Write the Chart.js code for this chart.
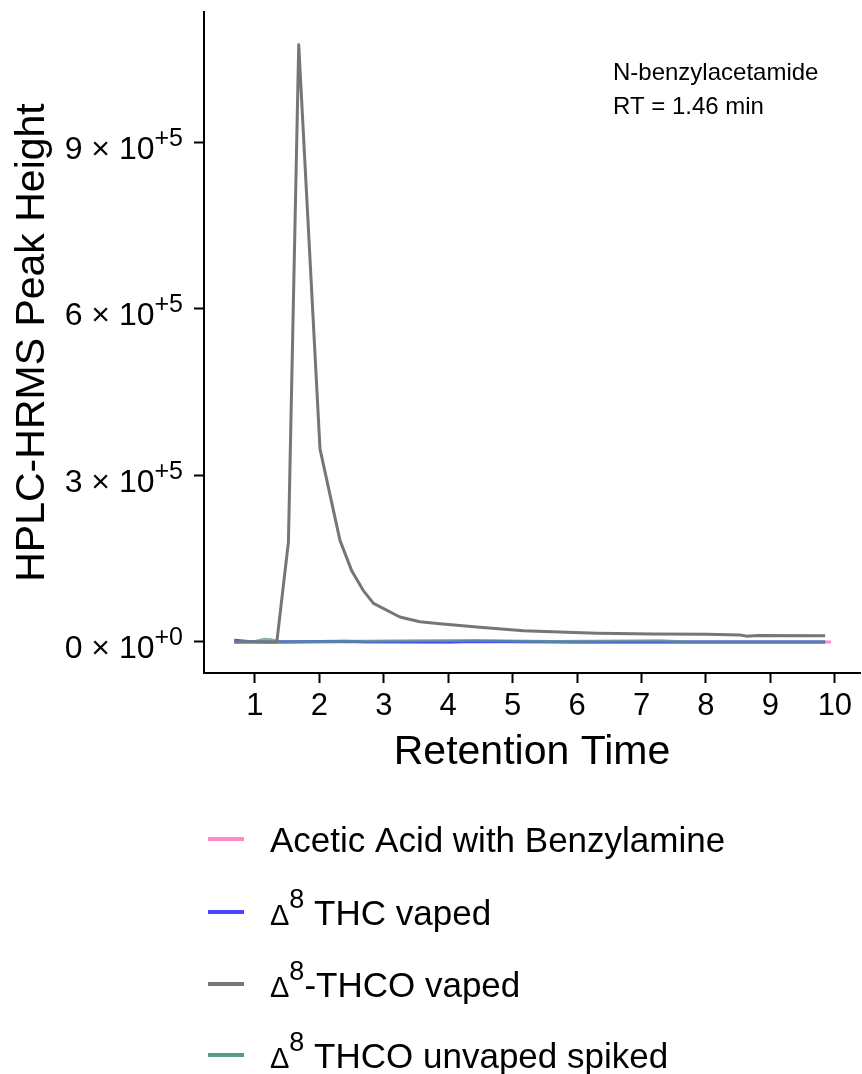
<!DOCTYPE html>
<html>
<head>
<meta charset="utf-8">
<script src="https://cdn.jsdelivr.net/npm/chart.js@4"></script>
<style>
  html, body { margin: 0; padding: 0; background: #fff; }
  canvas { display: block; }
</style>
</head>
<body>
<canvas id="chart" width="862" height="1074"></canvas>
<script>
const FONT = '"Liberation Sans", Arial, sans-serif';

// series names use ^{..} for superscripts
const seriesNames = [
    'Acetic Acid with Benzylamine',
    'Δ^{8} THC vaped',
    'Δ^{8}-THCO vaped',
    'Δ^{8} THCO unvaped spiked',
];
const seriesColors = ['#ff88c8', '#4646ff', '#767676', '#5a9a8e'];

const acidX = [0.68, 9.94];
const acidY = [0, 0];

const thcX = [0.68, 0.9, 1.2, 2.4, 2.7, 4.0, 4.4, 6.0, 7.5, 9.85];
const thcY = [3000, 1000, 0, 1500, 500, 0, 1500, 0, 0, 0];

const thcoX = [0.68, 1.34, 1.52, 1.68, 2.01, 2.32, 2.50, 2.68, 2.84, 3.25, 3.56, 3.87, 4.49, 5.17, 5.84, 6.31, 7.19, 8.01, 8.53, 8.63, 8.80, 9.85];
const thcoY = [0, 0, 180000, 1076000, 348000, 183000, 129000, 93000, 69500, 45000, 36500, 33000, 26400, 20300, 17400, 15600, 14400, 13800, 12600, 10500, 11500, 11300];

const spikedX = [0.68, 1.0, 1.15, 1.25, 1.4, 3.5, 4.4, 5.6, 7.3, 7.7, 9.85];
const spikedY = [0, 1000, 5000, 4000, 0, 2000, 2500, 1000, 2000, 0, 0];

const xTicks = [1, 2, 3, 4, 5, 6, 7, 8, 9, 10];
const yTicks = [0, 300000, 600000, 900000];
const yTickLabels = ['0 × 10^{+0}', '3 × 10^{+5}', '6 × 10^{+5}', '9 × 10^{+5}'];

const noteLines = ['N-benzylacetamide', 'RT = 1.46 min'];

const toPoints = (xs, ys) => xs.map((x, i) => ({ x: x, y: ys[i] }));
const plain = s => s.replace(/\^\{([^}]*)\}/g, '$1');

// split 'a^{b}c' into parts, Δ gets its own part
function parseParts(s) {
    const parts = [];
    const re = /\^\{([^}]*)\}/g;
    const pushText = t => {
        t.split(/(Δ)/).forEach(seg => {
            if (seg) parts.push({ text: seg, sup: false, sym: seg === 'Δ' });
        });
    };
    let last = 0, m;
    while ((m = re.exec(s)) !== null) {
        if (m.index > last) pushText(s.slice(last, m.index));
        parts.push({ text: m[1], sup: true });
        last = re.lastIndex;
    }
    if (last < s.length) pushText(s.slice(last));
    return parts;
}

function drawRich(ctx, s, x, y, size, supSize, supRise, align) {
    const parts = parseParts(s);
    const fontOf = p => (p.sup ? supSize : p.sym ? Math.round(size * 0.82) : size) + 'px ' + FONT;
    let total = 0;
    for (const p of parts) {
        ctx.font = fontOf(p);
        p.w = ctx.measureText(p.text).width;
        total += p.w;
    }
    let cx = align === 'right' ? x - total : x;
    ctx.textAlign = 'left';
    ctx.textBaseline = 'alphabetic';
    const base = y + size * 0.36;
    for (const p of parts) {
        ctx.font = fontOf(p);
        ctx.fillText(p.text, cx, p.sup ? base - supRise : base);
        cx += p.w;
    }
}

const extras = {
    id: 'extras',
    afterDraw(chart) {
        const ctx = chart.ctx;
        const yScale = chart.scales.y;
        ctx.save();
        ctx.fillStyle = '#000';

        yTicks.forEach((v, i) => {
            const py = yScale.getPixelForValue(v);
            drawRich(ctx, yTickLabels[i], 183, py + 5, 32, 25, 13, 'right');
        });

        ctx.font = '24px ' + FONT;
        ctx.textAlign = 'left';
        ctx.textBaseline = 'middle';
        noteLines.forEach((t, i) => ctx.fillText(t, 613, 73 + i * 34));

        const rows = [839, 912, 984, 1055];
        seriesNames.forEach((name, i) => {
            ctx.strokeStyle = seriesColors[i];
            ctx.lineWidth = 4;
            ctx.beginPath();
            ctx.moveTo(208, rows[i]);
            ctx.lineTo(244, rows[i]);
            ctx.stroke();
            ctx.fillStyle = '#000';
            drawRich(ctx, name, 270, rows[i], 35, 27, 17, 'left');
        });
        ctx.restore();
    },
};

const axisGrid = { drawOnChartArea: false, tickLength: 10, tickColor: '#000', tickWidth: 2 };
const axisBorder = { color: '#000', width: 2 };

new Chart(document.getElementById('chart'), {
    type: 'line',
    data: {
        datasets: [
            { label: plain(seriesNames[0]), data: toPoints(acidX, acidY), borderColor: seriesColors[0], order: 4 },
            { label: plain(seriesNames[1]), data: toPoints(thcX, thcY), borderColor: seriesColors[1], order: 3 },
            { label: plain(seriesNames[2]), data: toPoints(thcoX, thcoY), borderColor: seriesColors[2], order: 1 },
            { label: plain(seriesNames[3]), data: toPoints(spikedX, spikedY), borderColor: 'rgba(90,154,142,0.75)', order: 2 },
        ],
    },
    options: {
        responsive: false,
        animation: false,
        layout: { padding: { left: 0, top: 12, right: 2, bottom: 297 } },
        plugins: { legend: { display: false }, tooltip: { enabled: false } },
        elements: {
            point: { radius: 0 },
            line: { tension: 0, borderWidth: 3, borderJoinStyle: 'round', borderCapStyle: 'butt' },
        },
        scales: {
            x: {
                type: 'linear',
                min: 0.21,
                max: 10.39,
                afterBuildTicks: s => { s.ticks = xTicks.map(v => ({ value: v })); },
                afterFit: s => { s.height = 104; },
                grid: axisGrid,
                border: axisBorder,
                ticks: { font: { size: 31, family: FONT }, color: '#000', padding: 5, maxRotation: 0, autoSkip: false },
                title: { display: true, text: 'Retention Time', font: { size: 41, family: FONT }, color: '#000', padding: 0 },
            },
            y: {
                type: 'linear',
                min: -55900,
                max: 1135100,
                afterBuildTicks: s => { s.ticks = yTicks.map(v => ({ value: v })); },
                afterFit: s => { s.width = 204; },
                grid: axisGrid,
                border: axisBorder,
                ticks: { display: false },
                title: { display: true, text: 'HPLC-HRMS Peak Height', font: { size: 41, family: FONT }, color: '#000', padding: { top: 8, bottom: 0 } },
            },
        },
    },
    plugins: [extras],
});
</script>
</body>
</html>
